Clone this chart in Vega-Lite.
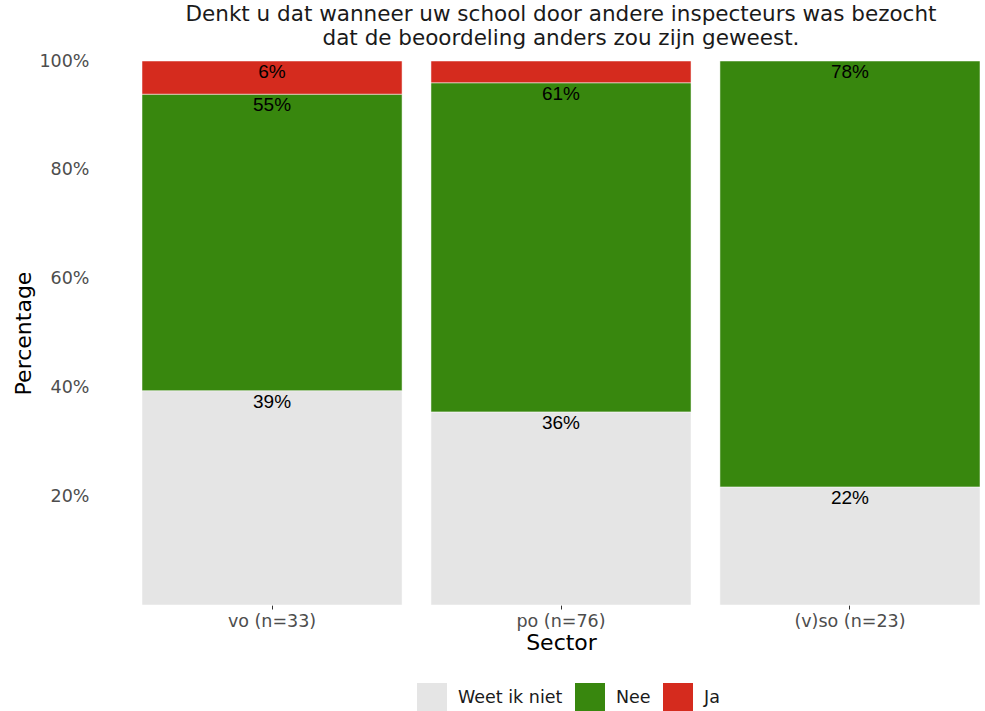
{
  "$schema": "https://vega.github.io/schema/vega-lite/v6.json",
  "autosize": {"type": "none"},
  "width": 838,
  "height": 544,
  "padding": {"left": 142, "top": 61, "right": 5, "bottom": 106},
  "background": "white",
  "title": {
    "text": ["Denkt u dat wanneer uw school door andere inspecteurs was bezocht", "dat de beoordeling anders zou zijn geweest."],
    "font": "DejaVu Sans",
    "fontSize": 21.5,
    "fontWeight": "normal",
    "color": "#1a1a1a",
    "lineHeight": 24,
    "anchor": "middle",
    "offset": 3
  },
  "data": {
    "values": [
      {"sector": "vo (n=33)", "antwoord": "Weet ik niet", "ord": 1, "value": 0.394},
      {"sector": "vo (n=33)", "antwoord": "Nee", "ord": 2, "value": 0.545},
      {"sector": "vo (n=33)", "antwoord": "Ja", "ord": 3, "value": 0.061},
      {"sector": "po (n=76)", "antwoord": "Weet ik niet", "ord": 1, "value": 0.355},
      {"sector": "po (n=76)", "antwoord": "Nee", "ord": 2, "value": 0.605},
      {"sector": "po (n=76)", "antwoord": "Ja", "ord": 3, "value": 0.04},
      {"sector": "(v)so (n=23)", "antwoord": "Weet ik niet", "ord": 1, "value": 0.217},
      {"sector": "(v)so (n=23)", "antwoord": "Nee", "ord": 2, "value": 0.783}
    ]
  },
  "transform": [
    {"stack": "value", "groupby": ["sector"], "sort": [{"field": "ord", "order": "ascending"}], "as": ["v0", "v1"]}
  ],
  "layer": [
    {
      "mark": {"type": "bar", "stroke": "white", "strokeWidth": 0.5},
      "encoding": {
        "x": {
          "field": "sector", "type": "nominal", "sort": null,
          "scale": {"paddingInner": 0.1, "paddingOuter": 0},
          "axis": {
            "title": "Sector", "titleFont": "DejaVu Sans", "titleFontSize": 22, "titleFontWeight": "normal", "titleColor": "#000000", "titlePadding": 3,
            "labelFont": "DejaVu Sans", "labelFontSize": 17.5, "labelColor": "#4d4d4d", "labelAngle": 0, "labelPadding": 3,
            "ticks": true, "tickSize": 4, "tickColor": "#333333", "domain": false
          }
        },
        "y": {
          "field": "v0", "type": "quantitative",
          "scale": {"domain": [0, 1], "nice": false},
          "axis": {
            "title": "Percentage", "titleFont": "DejaVu Sans", "titleFontSize": 22, "titleFontWeight": "normal", "titleColor": "#000000", "titlePadding": 3,
            "values": [0.2, 0.4, 0.6, 0.8, 1.0], "format": ".0%",
            "labelFont": "DejaVu Sans", "labelFontSize": 17.5, "labelColor": "#4d4d4d", "labelPadding": 53,
            "ticks": false, "domain": false, "grid": false
          }
        },
        "y2": {"field": "v1"},
        "color": {
          "field": "antwoord", "type": "nominal",
          "scale": {"domain": ["Weet ik niet", "Nee", "Ja"], "range": ["#e5e5e5", "#38870e", "#d52b1e"]},
          "legend": {
            "title": null, "orient": "none", "direction": "horizontal",
            "legendX": 275, "legendY": 622,
            "symbolType": "square", "symbolSize": 900, "symbolStrokeWidth": 0,
            "labelFont": "DejaVu Sans", "labelFontSize": 17.5, "labelColor": "#1a1a1a",
            "labelOffset": 11, "columnPadding": 12
          }
        }
      }
    },
    {
      "transform": [{"filter": "datum.value > 0.05"}],
      "mark": {"type": "text", "font": "Liberation Sans", "fontSize": 19, "color": "#000000", "baseline": "middle", "dy": 11},
      "encoding": {
        "x": {"field": "sector", "type": "nominal", "sort": null},
        "y": {"field": "v1", "type": "quantitative"},
        "text": {"field": "value", "type": "quantitative", "format": ".0%"}
      }
    }
  ],
  "config": {"view": {"stroke": null}}
}
